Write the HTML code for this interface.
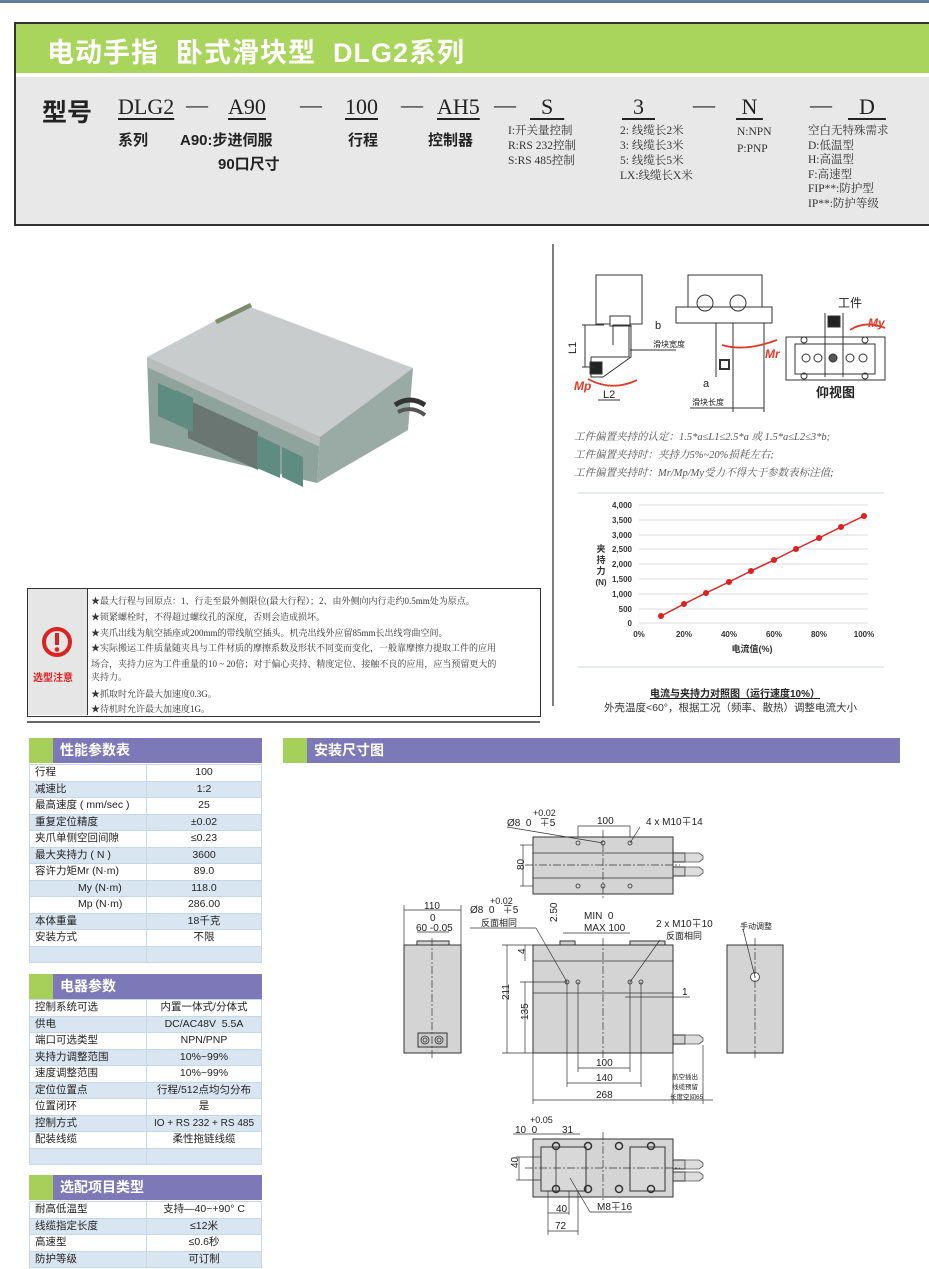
<!DOCTYPE html>
<html><head><meta charset="utf-8">
<style>
*{margin:0;padding:0;box-sizing:border-box}
body{width:929px;height:1269px;position:relative;background:#fff;overflow:hidden;font-family:"Liberation Sans","Noto Sans CJK SC",sans-serif;color:#222}
.a{position:absolute;white-space:nowrap}
.sf{font-family:"Liberation Serif","Noto Serif CJK SC",serif}
.m{font-family:"Liberation Serif","Noto Serif CJK SC",serif;font-size:22px;text-decoration:underline;text-underline-offset:4px;text-decoration-thickness:2px}
.b{font-weight:bold}
.sm{font-family:"Liberation Serif","Noto Serif CJK SC",serif;font-size:11.5px;color:#333;line-height:15px}
table{position:absolute;border-collapse:collapse;font-size:10.5px;color:#222}
td{border:1px solid #c4d8e8;padding:0 5px;height:16.5px;line-height:15px}
td:nth-child(2){text-align:center}
tr:nth-child(even) td{background:#d9e6f1}
.hd{position:absolute;height:25px;background:#7d78b8;color:#fff;font-weight:bold;font-size:14px;line-height:25px;padding-left:31px}
.hd:before{content:"";position:absolute;left:0;top:0;width:24px;height:25px;background:#a6d05a}
.note{position:absolute;left:91px;font-family:"Liberation Serif","Noto Serif CJK SC",serif;font-size:9px;color:#333;white-space:nowrap}
</style></head><body>
<div class="a" style="left:0;top:0;width:929px;height:3px;background:#5f7f9a"></div>
<!-- header box -->
<div class="a" style="left:14px;top:22px;width:915px;height:204px;border:2px solid #333;border-right:none;background:#e8e8e8"></div>
<div class="a" style="left:16px;top:24px;width:913px;height:49px;background:#a9d55c"></div>
<div class="a" style="left:16px;top:73px;width:913px;height:4px;background:#fff"></div>
<div class="a b" style="left:47px;top:31px;font-size:27px;color:#fff;letter-spacing:1px">电动手指&nbsp;&nbsp;卧式滑块型&nbsp;&nbsp;DLG2系列</div>
<div class="a b" style="left:42px;top:93px;font-size:25px">型号</div>
<div class="a m" style="left:118px;top:94px">DLG2</div>
<div class="a sf" style="left:186px;top:92px;font-size:22px">—</div>
<div class="a m" style="left:228px;top:94px">A90</div>
<div class="a sf" style="left:300px;top:92px;font-size:22px">—</div>
<div class="a m" style="left:345px;top:94px">100</div>
<div class="a sf" style="left:401px;top:92px;font-size:22px">—</div>
<div class="a m" style="left:437px;top:94px">AH5</div>
<div class="a sf" style="left:494px;top:92px;font-size:22px">—</div>
<div class="a m" style="left:530px;top:94px">&nbsp;&nbsp;S&nbsp;&nbsp;</div>
<div class="a m" style="left:622px;top:94px">&nbsp;&nbsp;3&nbsp;&nbsp;</div>
<div class="a sf" style="left:693px;top:92px;font-size:22px">—</div>
<div class="a m" style="left:736px;top:94px">&nbsp;N&nbsp;</div>
<div class="a sf" style="left:810px;top:92px;font-size:22px">—</div>
<div class="a m" style="left:848px;top:94px">&nbsp;&nbsp;D&nbsp;&nbsp;</div>
<div class="a b" style="left:118px;top:129px;font-size:15px">系列</div>
<div class="a b" style="left:180px;top:129px;font-size:15px">A90:步进伺服</div>
<div class="a b" style="left:218px;top:153px;font-size:15px">90口尺寸</div>
<div class="a b" style="left:348px;top:129px;font-size:15px">行程</div>
<div class="a b" style="left:428px;top:129px;font-size:15px">控制器</div>
<div class="a sm" style="left:508px;top:124px">I:开关量控制<br>R:RS 232控制<br>S:RS 485控制</div>
<div class="a sm" style="left:620px;top:124px">2: 线缆长2米<br>3: 线缆长3米<br>5: 线缆长5米<br>LX:线缆长X米</div>
<div class="a sm" style="left:737px;top:124px;line-height:17px">N:NPN<br>P:PNP</div>
<div class="a sm" style="left:808px;top:124px;line-height:14.5px">空白无特殊需求<br>D:低温型<br>H:高温型<br>F:高速型<br>FIP**:防护型<br>IP**:防护等级</div>

<!-- graphics layer -->
<svg class="a" style="left:0;top:0" width="929" height="1269" viewBox="0 0 929 1269" font-family="Liberation Sans, Noto Sans CJK SC, sans-serif">
<line x1="553" y1="244" x2="553" y2="706" stroke="#555" stroke-width="1.5"/>
<line x1="27" y1="722" x2="540" y2="722" stroke="#333" stroke-width="1.5"/>
<!-- product -->
<polygon points="147,357 245,305 413,368 320,437" fill="#c9cccc"/>
<polygon points="147,357 320,437 317,483 150,443" fill="#8fa39d"/>
<polygon points="147,357 320,437 320,447 147,367" fill="#b8bcbb"/>
<polygon points="320,437 413,368 408,430 317,483" fill="#9aaba6"/>
<polygon points="188,400 258,432 258,470 188,438" fill="#6a7672"/>
<polygon points="158,383 178,392 178,425 158,416" fill="#5f8c80"/>
<polygon points="176,390 193,398 193,432 176,424" fill="#5f8c80"/>
<polygon points="257,435 280,446 280,478 257,468" fill="#5f8c80"/>
<polygon points="282,447 303,457 303,487 282,477" fill="#5f8c80"/>
<polygon points="215,320 250,303 252,307 217,324" fill="#7e8b70"/>
<path d="M395,405 Q410,395 425,405" stroke="#333" stroke-width="5" fill="none"/>
<path d="M398,412 Q412,405 425,415" stroke="#555" stroke-width="4" fill="none"/>
<!-- top-right schematic -->
<g stroke="#333" stroke-width="1" fill="none">
<rect x="596" y="275" width="46" height="49"/>
<rect x="610" y="316" width="20" height="10" fill="#fff"/>
<path d="M591,357 h38 v-32 h-16 v20"/><path d="M591,357 v20 h12 l28,-20 v-32"/>
<rect x="590" y="362" width="12" height="12" fill="#222"/>
<line x1="582" y1="325" x2="604" y2="325"/><line x1="582" y1="367" x2="595" y2="367"/><line x1="585" y1="325" x2="585" y2="367"/>
<line x1="630" y1="350" x2="676" y2="350"/>
<line x1="598" y1="400" x2="620" y2="400"/>
<rect x="688" y="275" width="74" height="32"/>
<rect x="676" y="307" width="96" height="16"/>
<circle cx="705" cy="303" r="8"/><circle cx="738" cy="303" r="8"/>
<line x1="716" y1="323" x2="716" y2="377"/><line x1="733" y1="323" x2="733" y2="377"/>
<rect x="720" y="360" width="9" height="9" fill="#fff" stroke-width="2"/>
<line x1="733" y1="323" x2="764" y2="323"/><line x1="764" y1="323" x2="764" y2="412"/><line x1="733" y1="377" x2="733" y2="412"/>
<line x1="690" y1="408" x2="764" y2="408"/>
<rect x="786" y="337" width="99" height="43"/>
<rect x="795" y="344" width="80" height="30"/>
<line x1="825" y1="313" x2="825" y2="377"/><line x1="843" y1="313" x2="843" y2="377"/>
<rect x="828" y="316" width="12" height="11" fill="#222"/>
<circle cx="806" cy="358" r="4"/><circle cx="818" cy="358" r="4"/><circle cx="833" cy="358" r="4" fill="#555"/><circle cx="850" cy="358" r="4"/><circle cx="863" cy="358" r="4"/>
<circle cx="804" cy="340" r="3"/><circle cx="865" cy="340" r="3"/><circle cx="804" cy="376" r="3"/><circle cx="865" cy="376" r="3"/>
</g>
<g stroke="#e03a2a" stroke-width="1.8" fill="none">
<path d="M588,379 Q612,392 637,380"/><path d="M722,345 Q745,352 777,340"/><path d="M850,330 Q865,320 885,328"/>
</g>
<g font-size="12" fill="#222">
<text x="567" y="355" transform="rotate(-90 571 350)" font-size="11">L1</text>
<text x="655" y="329" font-size="11">b</text><text x="653" y="347" font-size="8">滑块宽度</text>
<text x="603" y="398" font-size="11">L2</text>
<text x="703" y="387" font-size="11">a</text><text x="692" y="405" font-size="8">滑块长度</text>
<text x="838" y="307" font-size="12">工件</text>
<text x="816" y="397" font-size="13" font-weight="bold">仰视图</text>
<text x="574" y="390" font-size="12" fill="#e03a2a" font-weight="bold" font-style="italic">Mp</text>
<text x="765" y="358" font-size="12" fill="#e03a2a" font-weight="bold" font-style="italic">Mr</text>
<text x="868" y="327" font-size="12" fill="#e03a2a" font-weight="bold" font-style="italic">My</text>
</g>
<!-- chart -->
<line x1="578" y1="493" x2="884" y2="493" stroke="#cdd8e0"/>
<line x1="578" y1="667" x2="884" y2="667" stroke="#cdd8e0"/>
<g stroke="#ddd">
<line x1="639" y1="505" x2="868" y2="505"/><line x1="639" y1="520" x2="868" y2="520"/><line x1="639" y1="535" x2="868" y2="535"/><line x1="639" y1="549" x2="868" y2="549"/><line x1="639" y1="564" x2="868" y2="564"/><line x1="639" y1="579" x2="868" y2="579"/><line x1="639" y1="594" x2="868" y2="594"/><line x1="639" y1="609" x2="868" y2="609"/><line x1="639" y1="623" x2="868" y2="623"/>
</g>
<g font-size="8" font-weight="bold" fill="#333" text-anchor="end">
<text x="632" y="508">4,000</text><text x="632" y="523">3,500</text><text x="632" y="538">3,000</text><text x="632" y="552">2,500</text><text x="632" y="567">2,000</text><text x="632" y="582">1,500</text><text x="632" y="597">1,000</text><text x="632" y="612">500</text><text x="632" y="626">0</text>
</g>
<g font-size="8" font-weight="bold" fill="#333" text-anchor="middle">
<text x="639" y="637">0%</text><text x="684" y="637">20%</text><text x="729" y="637">40%</text><text x="774" y="637">60%</text><text x="819" y="637">80%</text><text x="864" y="637">100%</text>
<text x="752" y="652" font-size="9">电流值(%)</text>
<text x="601" y="552" font-size="9">夹</text><text x="601" y="563" font-size="9">持</text><text x="601" y="574" font-size="9">力</text><text x="601" y="585" font-size="8">(N)</text>
</g>
<polyline points="661,616 684,604 706,593 729,582 751,571 774,560 796,549 819,538 841,527 864,516" fill="none" stroke="#e02020" stroke-width="1.5"/>
<g fill="#e02020"><circle cx="661" cy="616" r="3"/><circle cx="684" cy="604" r="3"/><circle cx="706" cy="593" r="3"/><circle cx="729" cy="582" r="3"/><circle cx="751" cy="571" r="3"/><circle cx="774" cy="560" r="3"/><circle cx="796" cy="549" r="3"/><circle cx="819" cy="538" r="3"/><circle cx="841" cy="527" r="3"/><circle cx="864" cy="516" r="3"/></g>

<!-- install drawing -->
<g stroke="#333" stroke-width="1" fill="#d4d4d4">
<rect x="533" y="837" width="140" height="57"/>
<rect x="533" y="945" width="140" height="108"/>
<rect x="404" y="945" width="57" height="108"/>
<rect x="417" y="941" width="32" height="4"/>
<rect x="727" y="945" width="56" height="108"/>
<rect x="533" y="1139" width="140" height="58"/>
<rect x="673" y="853" width="12" height="9"/><rect x="673" y="867" width="12" height="9"/><rect x="673" y="1035" width="12" height="9"/><rect x="673" y="1160" width="12" height="9"/><rect x="673" y="1172" width="12" height="9"/>
<rect x="418" y="1033" width="29" height="14" fill="#ccc"/>
<rect x="541" y="1147" width="45" height="44" fill="#d8d8d8"/><rect x="630" y="1147" width="35" height="44" fill="#d8d8d8"/>
<rect x="560" y="941" width="15" height="4"/><rect x="630" y="941" width="35" height="4"/>
</g>
<g stroke="#555" fill="#ddd" stroke-width="0.8">
<path d="M685,853 h14 l4,3 v3 l-4,3 h-14z"/><path d="M685,867 h14 l4,3 v3 l-4,3 h-14z"/><path d="M685,1035 h14 l4,3 v3 l-4,3 h-14z"/><path d="M685,1160 h14 l4,3 v3 l-4,3 h-14z"/><path d="M685,1172 h14 l4,3 v3 l-4,3 h-14z"/>
</g>
<g stroke="#333" stroke-width="0.8" fill="none">
<line x1="533" y1="853" x2="673" y2="853"/><line x1="533" y1="878" x2="673" y2="878"/>
<line x1="533" y1="961" x2="673" y2="961"/><line x1="533" y1="993" x2="673" y2="993"/>
<circle cx="578" cy="843" r="2"/><circle cx="603" cy="843" r="2"/><circle cx="630" cy="843" r="2"/><circle cx="578" cy="886" r="2"/><circle cx="603" cy="886" r="2"/><circle cx="630" cy="886" r="2"/>
<circle cx="567" cy="982" r="2"/><circle cx="578" cy="982" r="2"/><circle cx="630" cy="982" r="2"/><circle cx="641" cy="982" r="2"/>
<circle cx="755" cy="977" r="4.5" fill="#fff"/>
<circle cx="425" cy="1040" r="4"/><circle cx="425" cy="1040" r="2"/><circle cx="439" cy="1040" r="4"/><circle cx="439" cy="1040" r="2"/>
<circle cx="556" cy="1146" r="3.5" stroke-width="1.5"/><circle cx="588" cy="1146" r="3.5" stroke-width="1.5"/><circle cx="619" cy="1146" r="3.5" stroke-width="1.5"/><circle cx="651" cy="1146" r="3.5" stroke-width="1.5"/>
<circle cx="556" cy="1189" r="3.5" stroke-width="1.5"/><circle cx="588" cy="1189" r="3.5" stroke-width="1.5"/><circle cx="619" cy="1189" r="3.5" stroke-width="1.5"/><circle cx="651" cy="1189" r="3.5" stroke-width="1.5"/>
<line x1="556" y1="1147" x2="556" y2="1191"/>
<line x1="630" y1="1147" x2="630" y2="1191"/>
</g>
<g stroke="#333" stroke-width="0.7" stroke-dasharray="8,2,2,2" fill="none">
<line x1="603" y1="830" x2="603" y2="900"/><line x1="525" y1="865" x2="680" y2="865"/>
<line x1="603" y1="938" x2="603" y2="1058"/><line x1="432" y1="938" x2="432" y2="1058"/><line x1="755" y1="938" x2="755" y2="1058"/>
<line x1="603" y1="1132" x2="603" y2="1202"/><line x1="525" y1="1168" x2="680" y2="1168"/>
</g>
<g stroke="#333" stroke-width="0.7" fill="none">
<line x1="507" y1="827" x2="603" y2="843"/><line x1="578" y1="826" x2="578" y2="837"/><line x1="630" y1="826" x2="630" y2="837"/><line x1="578" y1="826" x2="630" y2="826"/><line x1="640" y1="827" x2="630" y2="843"/>
<line x1="523" y1="845" x2="523" y2="886"/><line x1="520" y1="845" x2="533" y2="845"/><line x1="520" y1="886" x2="533" y2="886"/>
<line x1="404" y1="910" x2="461" y2="910"/><line x1="404" y1="905" x2="404" y2="945"/><line x1="461" y1="905" x2="461" y2="945"/>
<line x1="417" y1="932" x2="449" y2="932"/>
<line x1="470" y1="928" x2="536" y2="928"/><line x1="536" y1="928" x2="567" y2="982"/>
<line x1="563" y1="933" x2="630" y2="933"/><line x1="660" y1="940" x2="630" y2="982"/>
<line x1="507" y1="945" x2="507" y2="1053"/><line x1="502" y1="945" x2="533" y2="945"/><line x1="502" y1="1053" x2="533" y2="1053"/>
<line x1="525" y1="982" x2="525" y2="1053"/><line x1="520" y1="982" x2="567" y2="982"/>
<line x1="525" y1="945" x2="525" y2="961"/>
<line x1="578" y1="982" x2="578" y2="1072"/><line x1="630" y1="982" x2="630" y2="1072"/><line x1="567" y1="982" x2="567" y2="1087"/><line x1="641" y1="982" x2="641" y2="1087"/>
<line x1="578" y1="1068" x2="630" y2="1068"/><line x1="567" y1="1083" x2="641" y2="1083"/>
<line x1="533" y1="1053" x2="533" y2="1104"/><line x1="533" y1="1100" x2="713" y2="1100"/><line x1="703" y1="1045" x2="703" y2="1104"/><line x1="673" y1="1053" x2="673" y2="1104"/>
<line x1="625" y1="997" x2="690" y2="997"/>
<line x1="743" y1="929" x2="755" y2="977"/>
<line x1="516" y1="1157" x2="541" y2="1157"/><line x1="516" y1="1180" x2="541" y2="1180"/><line x1="519" y1="1157" x2="519" y2="1180"/>
<line x1="548" y1="1191" x2="548" y2="1235"/><line x1="578" y1="1191" x2="578" y2="1235"/><line x1="548" y1="1231" x2="578" y2="1231"/><line x1="569" y1="1191" x2="569" y2="1215"/><line x1="569" y1="1213" x2="548" y2="1213"/>
<line x1="570" y1="1178" x2="590" y2="1212"/><line x1="590" y1="1212" x2="632" y2="1212"/>
<line x1="513" y1="1134" x2="580" y2="1134"/>
</g>
<g font-size="10" fill="#222">
<text x="507" y="826">Ø8&#160;&#160;0&#160;&#160;&#160;∓5</text><text x="533" y="816" font-size="9">+0.02</text>
<text x="597" y="824">100</text><text x="646" y="825">4 x M10∓14</text>
<text x="521" y="873" transform="rotate(-90 521 870)">80</text>
<text x="424" y="909">110</text><text x="430" y="921">0</text><text x="416" y="931">60 -0.05</text>
<text x="470" y="913">Ø8&#160;&#160;0&#160;&#160;&#160;∓5</text><text x="490" y="904" font-size="9">+0.02</text>
<text x="481" y="926" font-size="9">反面相同</text>
<text x="584" y="919">MIN&#160;&#160;0</text><text x="584" y="931">MAX 100</text>
<text x="656" y="927">2 x M10∓10</text><text x="666" y="939" font-size="9">反面相同</text>
<text x="551" y="928" transform="rotate(-90 551 922)">2.50</text>
<text x="521" y="958" transform="rotate(-90 521 954)">4</text>
<text x="503" y="1006" transform="rotate(-90 503 1000)">211</text>
<text x="521" y="1027" transform="rotate(-90 521 1020)">135</text>
<text x="682" y="995">1</text>
<text x="596" y="1066">100</text><text x="596" y="1081">140</text><text x="596" y="1098">268</text>
<text x="672" y="1079" font-size="6.5">航空插出</text><text x="672" y="1089" font-size="6.5">线缆预留</text><text x="670" y="1099" font-size="6.5">长度空间65</text>
<text x="740" y="929" font-size="8">手动调整</text>
<text x="515" y="1133">10&#160;&#160;0</text><text x="530" y="1123" font-size="9">+0.05</text><text x="562" y="1133">31</text>
<text x="513" y="1173" transform="rotate(-90 513 1168)">40</text>
<text x="556" y="1212">40</text><text x="555" y="1229">72</text>
<text x="597" y="1210">M8∓16</text>
</g>
</svg>

<!-- right text -->
<div class="a sf" style="left:574px;top:429px;font-size:10.5px;color:#555;font-style:italic;line-height:18px">工件偏置夹持的认定：1.5*a≤L1≤2.5*a 或 1.5*a≤L2≤3*b;<br>工件偏置夹持时：夹持力5%~20%损耗左右;<br>工件偏置夹持时：Mr/Mp/My受力不得大于参数表标注值;</div>
<div class="a b" style="left:650px;top:685px;font-size:10px;text-decoration:underline">电流与夹持力对照图（运行速度10%）</div>
<div class="a" style="left:604px;top:700px;font-size:10.5px;color:#333">外壳温度&lt;60°，根据工况（频率、散热）调整电流大小</div>

<!-- notes box -->
<div class="a" style="left:27px;top:588px;width:514px;height:129px;border:1.5px solid #333"></div>
<div class="a" style="left:28px;top:589px;width:60px;height:126px;background:#e6e6e6;border-right:1px solid #333"></div>
<svg class="a" style="left:40px;top:625px" width="34" height="34" viewBox="0 0 34 34">
<circle cx="17" cy="17" r="13" fill="none" stroke="#d22" stroke-width="4"/>
<rect x="15" y="8" width="4" height="12" fill="#d22"/><circle cx="17" cy="24.5" r="2.3" fill="#d22"/>
</svg>
<div class="a b" style="left:33px;top:669px;font-size:10px;color:#d22">选型注意</div>
<div class="note" style="top:594px">★最大行程与回原点：1、行走至最外侧限位(最大行程）；2、由外侧向内行走约0.5mm处为原点。</div>
<div class="note" style="top:610px">★锁紧螺栓时，不得超过螺纹孔的深度，否则会造成损坏。</div>
<div class="note" style="top:626px">★夹爪出线为航空插座或200mm的带线航空插头。机壳出线外应留85mm长出线弯曲空间。</div>
<div class="note" style="top:641px">★实际搬运工件质量随夹具与工件材质的摩擦系数及形状不同变而变化，一般靠摩擦力提取工件的应用</div>
<div class="note" style="top:657px">场合，夹持力应为工件重量的10 ~ 20倍；对于偏心夹持、精度定位、接触不良的应用，应当预留更大的</div>
<div class="note" style="top:670px">夹持力。</div>
<div class="note" style="top:687px">★抓取时允许最大加速度0.3G。</div>
<div class="note" style="top:702px">★待机时允许最大加速度1G。</div>

<!-- tables -->
<div class="hd" style="left:29px;top:738px;width:233px">性能参数表</div>
<table style="left:29px;top:764px;width:233px">
<colgroup><col style="width:117px"><col></colgroup>
<tr><td>行程</td><td>100</td></tr><tr><td>减速比</td><td>1:2</td></tr><tr><td>最高速度 ( mm/sec )</td><td>25</td></tr><tr><td>重复定位精度</td><td>±0.02</td></tr><tr><td>夹爪单侧空回间隙</td><td>≤0.23</td></tr><tr><td>最大夹持力 ( N )</td><td>3600</td></tr><tr><td>容许力矩Mr (N·m)</td><td>89.0</td></tr><tr><td style="padding-left:48px">My (N·m)</td><td>118.0</td></tr><tr><td style="padding-left:48px">Mp (N·m)</td><td>286.00</td></tr><tr><td>本体重量</td><td>18千克</td></tr><tr><td>安装方式</td><td>不限</td></tr><tr><td></td><td></td></tr>
</table>
<div class="hd" style="left:29px;top:974px;width:233px">电器参数</div>
<table style="left:29px;top:999px;width:233px">
<colgroup><col style="width:117px"><col></colgroup>
<tr><td>控制系统可选</td><td>内置一体式/分体式</td></tr><tr><td>供电</td><td>DC/AC48V&#160;&#160;5.5A</td></tr><tr><td>端口可选类型</td><td>NPN/PNP</td></tr><tr><td>夹持力调整范围</td><td>10%~99%</td></tr><tr><td>速度调整范围</td><td>10%~99%</td></tr><tr><td>定位位置点</td><td>行程/512点均匀分布</td></tr><tr><td>位置闭环</td><td>是</td></tr><tr><td>控制方式</td><td style="padding:0;font-size:10px">IO + RS 232 + RS 485</td></tr><tr><td>配装线缆</td><td>柔性拖链线缆</td></tr><tr><td></td><td></td></tr>
</table>
<div class="hd" style="left:29px;top:1175px;width:233px">选配项目类型</div>
<table style="left:29px;top:1201px;width:233px">
<colgroup><col style="width:117px"><col></colgroup>
<tr><td>耐高低温型</td><td>支持—40~+90° C</td></tr><tr><td>线缆指定长度</td><td>≤12米</td></tr><tr><td>高速型</td><td>≤0.6秒</td></tr><tr><td>防护等级</td><td>可订制</td></tr>
</table>
<div class="hd" style="left:283px;top:738px;width:617px">安装尺寸图</div>
</body></html>
